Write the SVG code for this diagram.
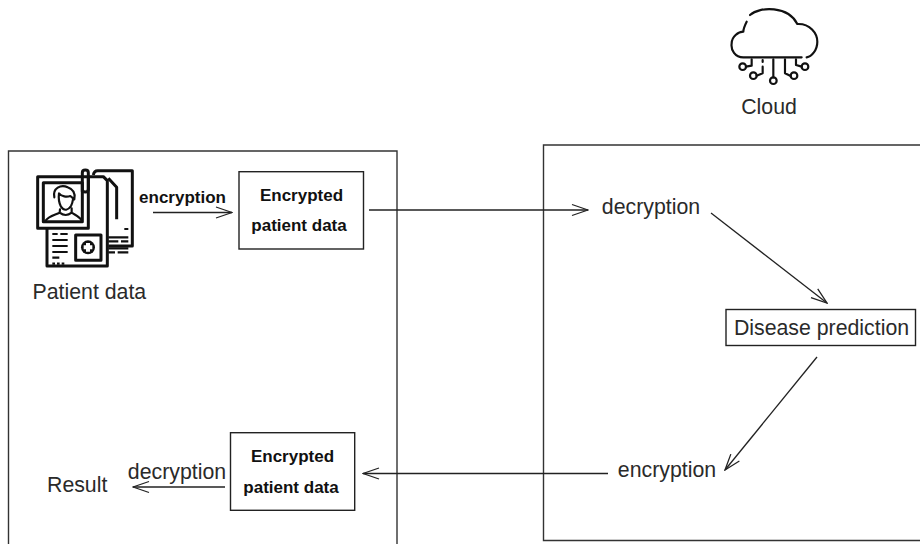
<svg xmlns="http://www.w3.org/2000/svg" width="920" height="544" viewBox="0 0 920 544">
<style>
text{font-family:"Liberation Sans",Arial,sans-serif;fill:#2a2a2a}
.n{font-size:21.300px}
.b{font-size:17px;font-weight:bold;fill:#111}
.box{fill:#fff;stroke:#222;stroke-width:1.4}
.frame{fill:none;stroke:#333;stroke-width:1.4}
.c{fill:none;stroke:#222;stroke-width:1.3}
.i{fill:none;stroke:#111;stroke-width:6.500;stroke-linejoin:round;stroke-linecap:round}
.p{fill:none;stroke:#111;stroke-width:9;stroke-linejoin:round}
.t{fill:none;stroke:#111;stroke-width:6.500}
</style>
<defs>
<marker id="a" viewBox="0 0 18 14" refX="17" refY="7" markerWidth="18" markerHeight="14" markerUnits="userSpaceOnUse" orient="auto"><path d="M1 1.500 17 7 1 12.500" fill="none" stroke="#222" stroke-width="1.3"/></marker>
</defs>
<g id="cloud">
<g transform="translate(710,0) scale(0.3333)">
<path class="i" d="M120 45C150 18 235 18 262 72C300 70 322 100 322 125C322 150 305 170 290 172M275 172H100C75 172 62 150 65 130C65 110 85 95 100 95C100 85 105 75 110 65"/>
<path class="i" d="M108 200L125 197V178M140 227L158 220V200M158 180V186M190 178V232M225 178V220L242 228M258 178V195L275 200"/>
<circle class="i" cx="98" cy="200" r="10"/><circle class="i" cx="130" cy="227" r="10"/><circle class="i" cx="190" cy="242" r="10"/><circle class="i" cx="252" cy="227" r="10"/><circle class="i" cx="285" cy="200" r="10"/>
</g>
<text class="n" x="769" y="113.500" text-anchor="middle">Cloud</text>
</g>
<g id="patient-side"><path class="frame" d="M8.500 544V151H397V544"/></g>
<g id="cloud-side"><path class="frame" d="M925 145H543.500V540.500H925"/></g>
<g id="patient-data">
<g transform="translate(25,160) scale(0.3333)">
<path class="p" d="M205 45Q207 32 218 32H322V258H250M250 55L275 82V178"/>
<path class="p" d="M190 50H235L247 62V318H66V205"/>
<rect class="p" x="38" y="50" width="152" height="155"/>
<rect class="p" x="55" y="68" width="117" height="117"/>
<path class="i" d="M88 112C82 85 108 72 128 82C145 88 152 100 148 118L136 108C125 112 110 110 102 100C100 115 100 125 108 140C118 155 130 150 138 138C142 130 143 125 144 118M105 148L104 158C90 165 70 168 62 182M140 145V158C150 165 165 170 170 182M104 158Q122 172 140 158"/>
<path class="p" d="M172 95V38Q172 30 181 30Q190 30 190 38V88Q190 96 181 96Q172 96 172 88V60" fill="#fff"/>
<rect class="p" x="152" y="225" width="76" height="76"/>
<circle cx="189" cy="262" r="21" fill="#111"/>
<path d="M183 249h12v7h7v12h-7v7h-12v-7h-7v-12h7z" fill="#fff"/>
<path class="t" d="M82 222H98M106 222H128M82 240H128M82 258H128M82 276H128M82 293H103M82 311H90M96 311H104M110 311H118M250 232H310M250 244H280M288 244H310M298 207H310M250 265H310M250 277H270M278 277H310"/>
</g>
<text class="n" x="32.500" y="298.500">Patient data</text>
</g>
<g id="encrypted-top"><rect class="box" x="239" y="171.700" width="124.500" height="77.300"/>
<text class="b" x="301.500" y="200.500" text-anchor="middle">Encrypted</text><text class="b" x="299" y="231" text-anchor="middle">patient data</text></g>
<g id="encrypted-bottom"><rect class="box" x="230.500" y="432.700" width="124.200" height="77.600"/>
<text class="b" x="292.500" y="462" text-anchor="middle">Encrypted</text><text class="b" x="291" y="492.500" text-anchor="middle">patient data</text></g>
<g id="disease"><rect class="box" x="726" y="309.500" width="189.500" height="36"/><text class="n" x="821.500" y="335" text-anchor="middle">Disease prediction</text></g>
<g id="labels">
<text class="b" x="182.500" y="203" text-anchor="middle">encryption</text>
<text class="n" x="651" y="214" text-anchor="middle">decryption</text>
<text class="n" x="667" y="477" text-anchor="middle">encryption</text>
<text class="n" x="177" y="479" text-anchor="middle">decryption</text>
<text class="n" x="47" y="492">Result</text>
</g>
<g id="connectors">
<path class="c" marker-end="url(#a)" d="M153 212.500H232"/>
<path class="c" marker-end="url(#a)" d="M369 210H588"/>
<path class="c" marker-end="url(#a)" d="M711 213L827 303"/>
<path class="c" marker-end="url(#a)" d="M817 357L725 470"/>
<path class="c" marker-end="url(#a)" d="M608 473.500H363"/>
<path class="c" marker-end="url(#a)" d="M225 487H133"/>
</g>
</svg>
